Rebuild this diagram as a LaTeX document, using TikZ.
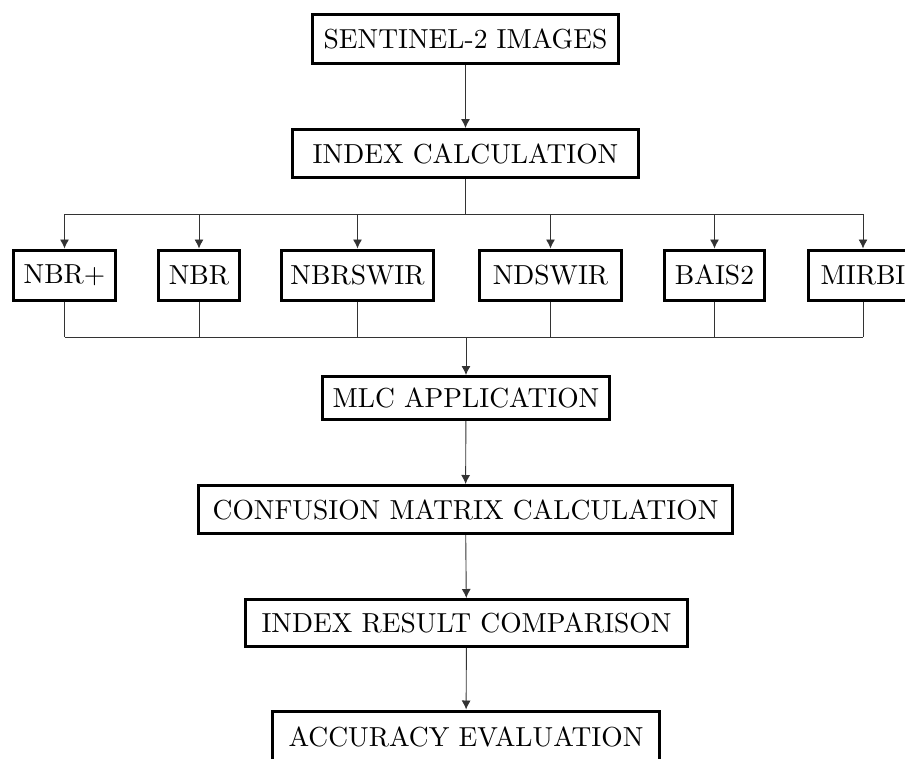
\documentclass[tikz,border=0pt]{standalone}
\usepackage{fontspec}
\setmainfont{lmroman10-regular.otf}
\usetikzlibrary{arrows.meta}
\tikzset{
  stage/.style={draw, line width=3pt, inner sep=0pt, font=\fontsize{27.5}{30}\selectfont},
  link/.style={line width=0.9pt, black!80},
}
\begin{document}
\begin{tikzpicture}[x=1pt, y=-1pt, >={Latex[length=9pt,width=9pt]}]
\path[use as bounding box, clip](0,0) rectangle (905,758);
% main column
\node[stage, minimum width=306, minimum height=49](sent) at (465.5,39){SENTINEL-2 IMAGES};
\node[stage, minimum width=346, minimum height=48](calc) at (465.5,153.5){INDEX CALCULATION};
% indices
\node[stage, minimum width=102, minimum height=50](nbrp) at (64.5,275){NBR+};
\node[stage, minimum width=81, minimum height=50](nbr) at (199,275){NBR};
\node[stage, minimum width=152, minimum height=50](nbrswir) at (357.5,275){NBRSWIR};
\node[stage, minimum width=142, minimum height=50](ndswir) at (550.5,275){NDSWIR};
\node[stage, minimum width=100, minimum height=50](bais) at (714.5,275){BAIS2};
\node[stage, minimum width=110, minimum height=50](mirbi) at (863,275){MIRBI};
% lower part
\node[stage, minimum width=287, minimum height=43](mlc) at (466,398){MLC APPLICATION};
\node[stage, minimum width=534, minimum height=48](conf) at (465.5,509.5){CONFUSION MATRIX CALCULATION};
\node[stage, minimum width=442, minimum height=47](comp) at (466.5,623){INDEX RESULT COMPARISON};
\node[stage, minimum width=387, minimum height=52](acc) at (466,737){ACCURACY EVALUATION};
\coordinate(split) at (465.5,214);
\coordinate(merge) at (466,337);
\draw[link,->](sent)--(calc);
\draw[link](calc)--(split);
\draw[link](nbrp|-split)--(mirbi|-split);
\draw[link](nbrp|-merge)--(mirbi|-merge);
\foreach \n in {nbrp,nbr,nbrswir,ndswir,bais,mirbi}{
  \draw[link,->](\n|-split)--(\n);
  \draw[link](\n)--(\n|-merge);
}
\draw[link,->](merge)--(mlc);
\draw[link,->](mlc)--(conf);
\draw[link,->](conf)--(comp);
\draw[link,->](comp)--(acc);
\end{tikzpicture}
\end{document}
